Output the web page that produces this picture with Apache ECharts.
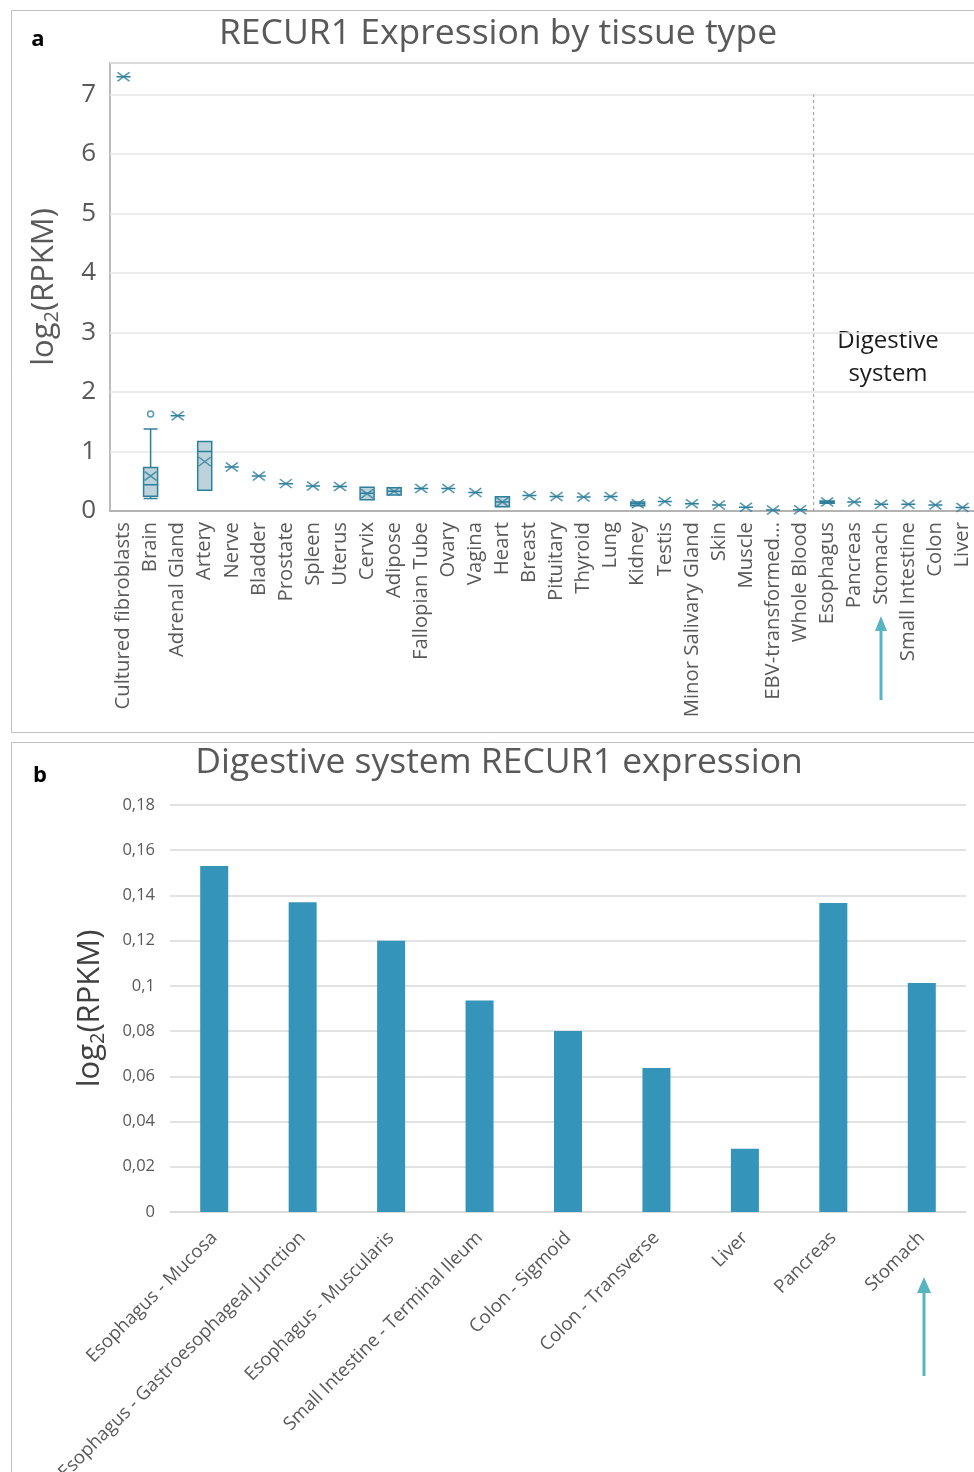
<!DOCTYPE html>
<html><head><meta charset="utf-8">
<script src="https://cdn.jsdelivr.net/npm/echarts@6/dist/echarts.min.js"></script>
<style>html,body{margin:0;padding:0;background:#fff}#c{width:974px;height:1472px}</style>
</head><body><div id="c"></div>
<script>
// ---------- Panel a data ----------
const tissueNames = ['Cultured fibroblasts','Brain','Adrenal Gland','Artery','Nerve','Bladder','Prostate','Spleen','Uterus','Cervix','Adipose','Fallopian Tube','Ovary','Vagina','Heart','Breast','Pituitary','Thyroid','Lung','Kidney','Testis','Minor Salivary Gland','Skin','Muscle','EBV-transformed...','Whole Blood','Esophagus','Pancreas','Stomach','Small Intestine','Colon','Liver'];
const tissueMeans = [7.30,0.59,1.60,0.83,0.74,0.59,0.46,0.42,0.41,0.29,0.33,0.38,0.38,0.31,0.15,0.26,0.245,0.235,0.245,0.12,0.16,0.12,0.10,0.062,0.018,0.022,0.15,0.15,0.115,0.115,0.10,0.06];
// [low whisker, Q1, median, Q3, high whisker]
const brainBox = [0.21,0.25,0.44,0.73,1.38];
const arteryBox = [0.35,0.35,1.00,1.17,1.17];
const cervixBox = [0.19,0.19,0.30,0.40,0.40];
const adiposeBox = [0.27,0.27,0.33,0.39,0.39];
const heartBox = [0.07,0.07,0.15,0.24,0.24];
const kidneyBox = [0.09,0.09,0.12,0.15,0.15];
const esophagusBox = [0.13,0.13,0.15,0.17,0.17];
const brainOutliers = [1.63];
const firstDigestive = 'Esophagus';
const topYTicks = [0,1,2,3,4,5,6,7];

// ---------- Panel b data ----------
const digestiveNames = ['Esophagus - Mucosa','Esophagus - Gastroesophageal Junction','Esophagus - Muscularis','Small Intestine - Terminal Ileum','Colon - Sigmoid','Colon - Transverse','Liver','Pancreas','Stomach'];
const digestiveValues = [0.153,0.137,0.120,0.0935,0.080,0.0637,0.028,0.1367,0.1013];

// ---------- build ----------
const boxLookup = {'Brain':brainBox,'Artery':arteryBox,'Cervix':cervixBox,'Adipose':adiposeBox,'Heart':heartBox,'Kidney':kidneyBox,'Esophagus':esophagusBox};
const boxData = tissueNames.map((n,i)=> boxLookup[n] ? boxLookup[n] : [tissueMeans[i],tissueMeans[i],tissueMeans[i],tissueMeans[i],tissueMeans[i]]);
const meanData = tissueNames.map((n,i)=>[n,tissueMeans[i]]);
const outlierData = brainOutliers.map(v=>['Brain',v]);
const dividerX = tissueNames.indexOf(firstDigestive) - 0.5;

const FONT = '"Open Sans", "Noto Sans", sans-serif';
const dark = '#2e7f9c';
const grey = '#595959';

const chart = echarts.init(document.getElementById('c'), null, {renderer:'canvas'});
const option = {
  animation:false,
  backgroundColor:'#fff',
  textStyle:{fontFamily:FONT},
  grid:[
    {left:110, top:63, width:866, height:448, show:true, borderColor:'#a6a6a6', borderWidth:1.5, backgroundColor:'transparent', containLabel:false, outerBoundsMode:'none'},
    {left:170, top:805, width:796, height:407, containLabel:false, outerBoundsMode:'none'}
  ],
  xAxis:[
    {gridIndex:0, type:'category', data:tissueNames, boundaryGap:true,
     axisLine:{lineStyle:{color:'#a6a6a6', width:1.5}}, axisTick:{show:false},
     axisLabel:{rotate:90, interval:0, fontSize:20.3, color:grey, margin:11, fontFamily:FONT}},
    {gridIndex:0, type:'value', min:-0.5, max:tissueNames.length-0.5, show:false},
    {gridIndex:1, type:'category', data:digestiveNames,
     axisLine:{lineStyle:{color:'#d9d9d9', width:1.5}}, axisTick:{show:false},
     axisLabel:{rotate:45, interval:0, fontSize:18.5, color:grey, margin:23, fontFamily:FONT}}
  ],
  yAxis:[
    {gridIndex:0, type:'value', min:0, max:7.53, interval:1,
     axisLine:{show:false}, axisTick:{show:false},
     splitLine:{lineStyle:{color:'#e6e6e6', width:1.5}},
     axisLabel:{fontSize:26, color:grey, margin:14, fontFamily:FONT,
       formatter:v=> topYTicks.indexOf(v)>=0 ? String(v) : ''},
     name:'log{s|2}(RPKM)', nameLocation:'middle', nameGap:48, nameRotate:90,
     nameTextStyle:{fontSize:31, color:grey, fontFamily:FONT,
       rich:{s:{fontSize:20, color:grey, fontFamily:FONT, padding:[15,0,0,0]}}}},
    {gridIndex:1, type:'value', min:0, max:0.18, interval:0.02,
     axisLine:{show:false}, axisTick:{show:false},
     splitLine:{lineStyle:{color:'#d9d9d9', width:1.5}},
     axisLabel:{fontSize:16.5, color:grey, margin:15, fontFamily:FONT,
       formatter:v=> String(+v.toFixed(2)).replace('.',',')},
     name:'log{s|2}(RPKM)', nameLocation:'middle', nameGap:62, nameRotate:90,
     nameTextStyle:{fontSize:31, color:'#404040', fontFamily:FONT,
       rich:{s:{fontSize:20, color:'#404040', fontFamily:FONT, padding:[15,0,0,0]}}}}
  ],
  series:[
    {type:'boxplot', xAxisIndex:0, yAxisIndex:0, data:boxData, boxWidth:[14,14],
     itemStyle:{color:'#bcd3dc', borderColor:dark, borderWidth:1.5}, silent:true},
    {type:'scatter', xAxisIndex:0, yAxisIndex:0, data:meanData,
     symbol:'path://M0,0L10,8M10,0L0,8', symbolSize:[12,9],
     itemStyle:{color:'rgba(0,0,0,0)', borderColor:dark, borderWidth:1.6}, z:5, silent:true},
    {type:'scatter', xAxisIndex:0, yAxisIndex:0, data:outlierData,
     symbol:'circle', symbolSize:6, itemStyle:{color:'#fff', borderColor:dark, borderWidth:1.5}, silent:true},
    {type:'line', xAxisIndex:1, yAxisIndex:0, data:[[dividerX,0],[dividerX,topYTicks[topYTicks.length-1]]],
     symbol:'none', lineStyle:{color:'#9a9a9a', width:1, type:[3,3]}, silent:true, z:1},
    {type:'bar', xAxisIndex:2, yAxisIndex:1, data:digestiveValues, barWidth:28,
     itemStyle:{color:'#3494ba'}, silent:true}
  ],
  graphic:[
    {type:'rect', shape:{x:11.5,y:10.5,width:975,height:722}, style:{fill:'none', stroke:'#bfbfbf', lineWidth:1}, silent:true},
    {type:'rect', shape:{x:11.5,y:742.5,width:975,height:740}, style:{fill:'none', stroke:'#bfbfbf', lineWidth:1}, silent:true},
    {type:'text', x:38, y:40, style:{text:'a', font:'bold 22px '+FONT, fill:'#000', align:'center', verticalAlign:'middle', textAlign:'center', textVerticalAlign:'middle'}},
    {type:'text', x:40, y:776, style:{text:'b', font:'bold 22px '+FONT, fill:'#000', align:'center', verticalAlign:'middle', textAlign:'center', textVerticalAlign:'middle'}},
    {type:'text', x:498, y:34, style:{text:'RECUR1 Expression by tissue type', font:'35.5px '+FONT, fill:grey, align:'center', verticalAlign:'middle', textAlign:'center', textVerticalAlign:'middle'}},
    {type:'text', x:499, y:763, style:{text:'Digestive system RECUR1 expression', font:'35.5px '+FONT, fill:grey, align:'center', verticalAlign:'middle', textAlign:'center', textVerticalAlign:'middle'}},
    {type:'text', x:888, y:358, style:{text:'Digestive\nsystem', font:'24px '+FONT, fill:'#1a1a1a', lineHeight:33, align:'center', verticalAlign:'middle', textAlign:'center', textVerticalAlign:'middle'}},
    {type:'line', shape:{x1:881,y1:700,x2:881,y2:628}, style:{stroke:'#58b4c0', lineWidth:3}},
    {type:'polygon', shape:{points:[[881,616],[875,631],[887,631]]}, style:{fill:'#58b4c0'}},
    {type:'line', shape:{x1:924,y1:1376,x2:924,y2:1290}, style:{stroke:'#58b4c0', lineWidth:3}},
    {type:'polygon', shape:{points:[[924,1277],[917,1293],[931,1293]]}, style:{fill:'#58b4c0'}}
  ]
};
chart.setOption(option);
</script></body></html>
